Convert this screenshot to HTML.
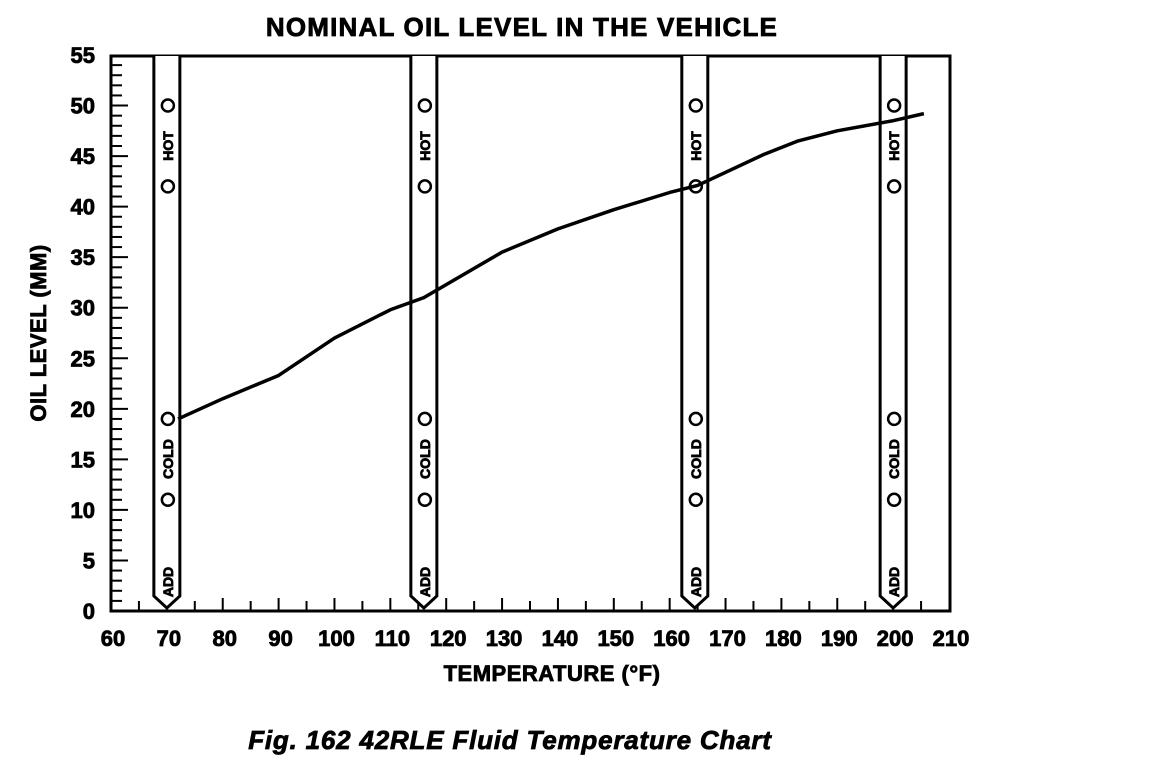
<!DOCTYPE html>
<html><head><meta charset="utf-8"><style>
body{margin:0;background:#fff;width:1152px;height:758px;overflow:hidden}
svg text{font-family:"Liberation Sans",sans-serif;font-weight:bold;fill:#000;stroke:#000;stroke-width:0.8}
</style></head><body>
<svg id="s" width="1152" height="758" xmlns="http://www.w3.org/2000/svg"></svg>
<script>
const s=document.getElementById('s');let h='';
const X=t=>111+(t-60)*5.5867, Y=l=>611-l*10.109;
h+=`<text x="522" y="36" font-size="26" letter-spacing="1.2" text-anchor="middle">NOMINAL OIL LEVEL IN THE VEHICLE</text>`;
h+=`<rect x="111" y="56" width="839" height="555" fill="none" stroke="#000" stroke-width="3"/>`;
for(let l=1;l<55;l++){const y=Y(l);h+=`<line x1="111" x2="${l%5?122:128}" y1="${y}" y2="${y}" stroke="#000" stroke-width="2"/>`;}
for(let l=0;l<=55;l+=5)h+=`<text x="95" y="${Y(l)+8}" font-size="22" text-anchor="end">${l}</text>`;
for(let t=65;t<210;t+=5){const x=X(t);h+=`<line x1="${x}" x2="${x}" y1="611" y2="${t%10?601:598}" stroke="#000" stroke-width="2"/>`;}
for(let t=60;t<=210;t+=10)h+=`<text x="${X(t)+2}" y="646" font-size="22" text-anchor="middle">${t}</text>`;
[70,116,164.5,200].forEach(t=>{const c=X(t);
h+=`<path d="M${c-13} 56 V596 L${c} 608 L${c+13} 596 V56" fill="#fff" stroke="#000" stroke-width="3"/>`;
[50,42,19,11].forEach(l=>h+=`<circle cx="${c+1}" cy="${Y(l)}" r="6" fill="#fff" stroke="#000" stroke-width="2.5"/>`);
[["HOT",146],["COLD",459],["ADD",582]].forEach(([w,y])=>h+=`<text transform="translate(${c+6},${y}) rotate(-90)" font-size="14" stroke-width="0.5" text-anchor="middle">${w}</text>`);
});
const pts=[[72,19],[80,21],[90,23.3],[100,27],[110,29.8],[116,31],[130,35.5],[140,37.8],[150,39.7],[160,41.4],[165,42.1],[177,45.2],[183,46.5],[190,47.5],[200,48.5],[205.5,49.2]];
h+=`<polyline fill="none" stroke="#000" stroke-width="3.5" stroke-linejoin="round" points="${pts.map(p=>X(p[0])+','+Y(p[1])).join(' ')}"/>`;
h+=`<text transform="translate(46,333) rotate(-90)" font-size="22" letter-spacing="0.5" text-anchor="middle">OIL LEVEL (MM)</text>`;
h+=`<text x="552" y="681" font-size="22" letter-spacing="0.5" text-anchor="middle">TEMPERATURE (°F)</text>`;
h+=`<text x="510" y="749" font-size="26" letter-spacing="0.8" font-style="italic" text-anchor="middle">Fig. 162 42RLE Fluid Temperature Chart</text>`;
s.innerHTML=h;
</script>
</body></html>
